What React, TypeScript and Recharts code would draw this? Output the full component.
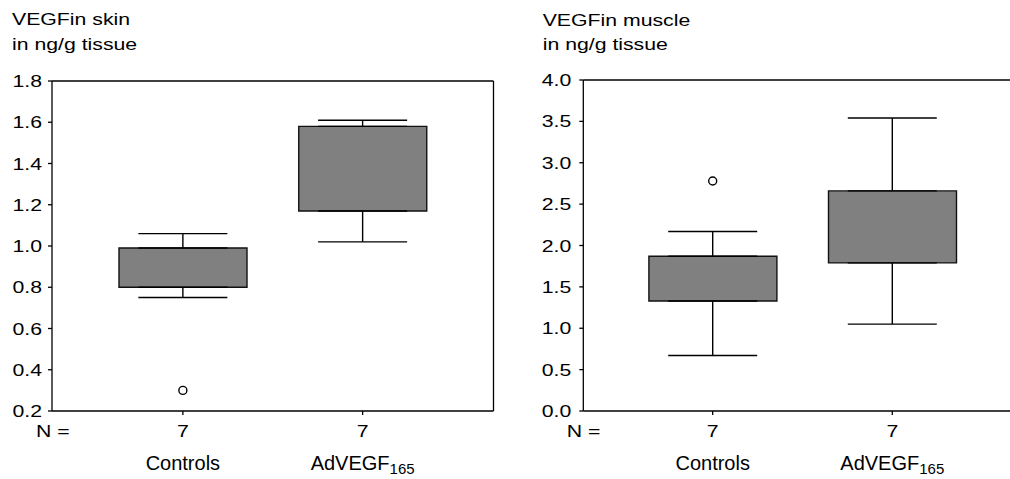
import React from 'react';
import { ComposedChart, Bar, Line, ErrorBar, XAxis, YAxis } from 'recharts';

const categories = ['Controls', 'AdVEGF'];
const categorySubs = ['', '165'];
const nValues = [7, 7];

const skinMin = [0.75, 1.02];
const skinQ1 = [0.8, 1.17];
const skinQ3 = [0.99, 1.58];
const skinMax = [1.06, 1.61];
const skinOutliers = [0.3, null];
const skinTicks = [0.2, 0.4, 0.6, 0.8, 1.0, 1.2, 1.4, 1.6, 1.8];

const muscleMin = [0.67, 1.05];
const muscleQ1 = [1.33, 1.79];
const muscleQ3 = [1.87, 2.66];
const muscleMax = [2.17, 3.54];
const muscleOutliers = [2.78, null];
const muscleTicks = [0, 0.5, 1.0, 1.5, 2.0, 2.5, 3.0, 3.5, 4.0];

const FONT = '"Liberation Sans", Arial, Helvetica, sans-serif';
const STRETCH = 1.25;

const buildRows = (
  mins: number[],
  q1s: number[],
  q3s: number[],
  maxs: number[],
  outliers: (number | null)[]
) =>
  categories.map((name, i) => ({
    name,
    sub: categorySubs[i],
    n: nValues[i],
    box: [q1s[i], q3s[i]],
    q1: q1s[i],
    q3: q3s[i],
    lowErr: [q1s[i] - mins[i], 0],
    highErr: [0, maxs[i] - q3s[i]],
    outlier: outliers[i],
  }));

const skinRows = buildRows(skinMin, skinQ1, skinQ3, skinMax, skinOutliers);
const muscleRows = buildRows(muscleMin, muscleQ1, muscleQ3, muscleMax, muscleOutliers);

const YTick = ({ x, y, payload }: any) => (
  <text
    transform={`translate(${x},${y}) scale(${STRETCH},1)`}
    textAnchor="end"
    dy="0.355em"
    fontSize={17}
    fontFamily={FONT}
    fill="#000"
  >
    {Number(payload.value).toFixed(1)}
  </text>
);

const makeXTick = (rows: any[]) => ({ x, y, index }: any) => {
  const row = rows[index];
  return (
    <g>
      <text
        transform={`translate(${x},${y + 20}) scale(${STRETCH},1)`}
        textAnchor="middle"
        fontSize={17}
        fontFamily={FONT}
        fill="#000"
      >
        {row.n}
      </text>
      <text x={x} y={y + 53} textAnchor="middle" fontSize={20} fontFamily={FONT} fill="#000">
        <tspan>{row.name}</tspan>
        {row.sub && (
          <tspan fontSize={15} dy={4}>
            {row.sub}
          </tspan>
        )}
      </text>
    </g>
  );
};

interface BoxPanelProps {
  rows: any[];
  ticks: number[];
  width: number;
  top: number;
  axisWidth: number;
  right: number;
  pad: number;
  tickMargin: number;
}

const axisStyle = { stroke: '#000', strokeWidth: 1.3 };

// top and right axes only draw the frame, they need a size of at least 1px to render
const BoxPanel = ({ rows, ticks, width, top, axisWidth, right, pad, tickMargin }: BoxPanelProps) => {
  const lo = ticks[0];
  const hi = ticks[ticks.length - 1];
  return (
    <ComposedChart
      width={width}
      height={479}
      data={rows}
      margin={{ top: top - 1, right: right - 1, bottom: 0, left: 0 }}
      barCategoryGap={0}
    >
      <XAxis
        dataKey="name"
        height={68}
        padding={{ left: pad, right: pad }}
        tickSize={4}
        tickMargin={2}
        tickLine={axisStyle}
        axisLine={axisStyle}
        tick={makeXTick(rows)}
        interval={0}
      />
      <XAxis
        xAxisId="frameTop"
        orientation="top"
        dataKey="name"
        height={1}
        tick={false}
        tickLine={false}
        axisLine={axisStyle}
      />
      <YAxis
        width={axisWidth}
        domain={[lo, hi]}
        ticks={ticks}
        allowDataOverflow
        tickSize={4}
        tickMargin={tickMargin}
        tickLine={axisStyle}
        axisLine={axisStyle}
        tick={<YTick />}
        interval={0}
      />
      <YAxis
        yAxisId="frameRight"
        orientation="right"
        width={1}
        domain={[lo, hi]}
        tick={false}
        tickLine={false}
        axisLine={axisStyle}
      />
      <Bar
        dataKey="box"
        barSize={128}
        fill="#808080"
        stroke="#111"
        strokeWidth={1.4}
        isAnimationActive={false}
      />
      <Line dataKey="q3" stroke="none" dot={false} activeDot={false} isAnimationActive={false}>
        <ErrorBar dataKey="highErr" direction="y" width={44.5} stroke="#000" strokeWidth={1.4} isAnimationActive={false} />
      </Line>
      <Line dataKey="q1" stroke="none" dot={false} activeDot={false} isAnimationActive={false}>
        <ErrorBar dataKey="lowErr" direction="y" width={44.5} stroke="#000" strokeWidth={1.4} isAnimationActive={false} />
      </Line>
      <Line
        dataKey="outlier"
        stroke="none"
        dot={{ r: 4, fill: '#fff', stroke: '#000', strokeWidth: 1.4 }}
        activeDot={false}
        isAnimationActive={false}
      />
    </ComposedChart>
  );
};

const label = (x: number, y: number, text: string) => (
  <text
    transform={`translate(${x},${y}) scale(${STRETCH},1)`}
    fontSize={17}
    fontFamily={FONT}
    fill="#000"
  >
    {text}
  </text>
);

export default function App() {
  return (
    <div
      style={{
        position: 'absolute',
        left: 0,
        top: 0,
        width: 1010,
        height: 479,
        overflow: 'hidden',
        background: '#fff',
      }}
    >
      <div style={{ position: 'absolute', left: 0, top: 0 }}>
        <BoxPanel rows={skinRows} ticks={skinTicks} width={510} top={81} axisWidth={52} right={16.5} pad={41} tickMargin={6} />
      </div>
      <div style={{ position: 'absolute', left: 500, top: 0 }}>
        <BoxPanel rows={muscleRows} ticks={muscleTicks} width={530} top={80} axisWidth={83.3} right={8.3} pad={39.6} tickMargin={8} />
      </div>
      <svg width={1010} height={479} style={{ position: 'absolute', left: 0, top: 0, pointerEvents: 'none' }}>
        {label(12, 25, 'VEGFin skin')}
        {label(12, 50, 'in ng/g tissue')}
        {label(36, 437, 'N =')}
        {label(542.7, 26, 'VEGFin muscle')}
        {label(542.7, 50, 'in ng/g tissue')}
        {label(566.7, 437, 'N =')}
      </svg>
    </div>
  );
}
